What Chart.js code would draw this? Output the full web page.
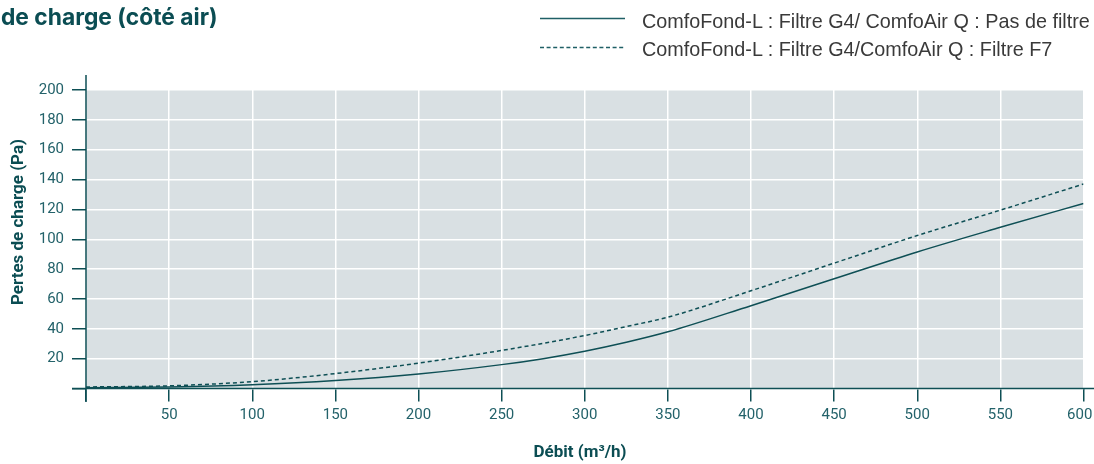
<!DOCTYPE html>
<html>
<head>
<meta charset="utf-8">
<script src="https://cdn.jsdelivr.net/npm/chart.js@4.4.1/dist/chart.umd.min.js"></script>
<style>
  html, body { margin: 0; padding: 0; background: #ffffff; }
  #wrap { position: relative; width: 1094px; height: 464px; overflow: hidden; }
  #chart { position: absolute; left: 0; top: 0; }
  .title { position: absolute; left: 1px; top: 3px; font: bold 22.8px Inter, 'Liberation Sans', Arial, sans-serif; color: #0b4d53; white-space: nowrap; line-height: 28px; }
  .lgtext { position: absolute; left: 642px; font: 19.8px 'Liberation Sans', Arial, sans-serif; color: #3a3a3a; white-space: nowrap; line-height: 28px; }
  .lgline { position: absolute; left: 540px; }
</style>
</head>
<body>
<div id="wrap">
  <canvas id="chart" width="1094" height="464"></canvas>
  <div class="title">de charge (côté air)</div>
  <svg class="lgline" style="top:16px" width="85" height="5"><line x1="0" y1="2.5" x2="85" y2="2.5" stroke="#1f5f66" stroke-width="1.3"/></svg>
  <svg class="lgline" style="top:44.5px" width="85" height="5"><line x1="0" y1="2.5" x2="85" y2="2.5" stroke="#1f5f66" stroke-width="1.3" stroke-dasharray="4 2.6"/></svg>
  <div class="lgtext" id="lg0" style="top:7px"></div>
  <div class="lgtext" id="lg1" style="top:35px"></div>
</div>
<script>
// Airflow (m³/h) and pressure loss (Pa) for the two filter configurations
const flow = [0, 50, 100, 150, 200, 250, 275, 300, 325, 350, 400, 450, 500, 550, 600];
const lossNoFilter = [0.5, 1, 2.5, 5.3, 9.7, 16, 20, 25, 31, 38, 55.5, 73.5, 91.5, 108, 124];
const lossF7 = [1, 1.8, 4.6, 10, 17, 25.5, 30.3, 35.5, 41.5, 47.8, 65.5, 84, 102.5, 119.5, 137];
const seriesNames = [
  'ComfoFond-L : Filtre G4/ ComfoAir Q : Pas de filtre',
  'ComfoFond-L : Filtre G4/ComfoAir Q : Filtre F7'
];
const xTicksStep = 50;
const yTicksStep = 20;
const xLabel = 'Débit (m³/h)';
const yLabel = 'Pertes de charge (Pa)';

document.getElementById('lg0').textContent = seriesNames[0];
document.getElementById('lg1').textContent = seriesNames[1];

const teal = '#0e4f55';
const tickText = '#23626a';
const tickFont = { family: "Roboto, sans-serif", size: 15 };

const toPoints = (ys) => flow.map((x, i) => ({ x, y: ys[i] }));

// Grey plotting panel behind the grid
const panelPlugin = {
  id: 'panel',
  beforeDraw(chart) {
    const { ctx, chartArea: a } = chart;
    ctx.save();
    ctx.fillStyle = '#d9e0e3';
    ctx.fillRect(a.left, a.top, a.right - a.left, a.bottom - a.top);
    ctx.restore();
  }
};

// Axis lines running past the panel, plus the two axis titles
const axesPlugin = {
  id: 'axes',
  afterDraw(chart) {
    const { ctx, chartArea: a } = chart;
    ctx.save();
    ctx.strokeStyle = teal;
    ctx.lineWidth = 1.5;
    ctx.beginPath();
    ctx.moveTo(a.left, a.top - 15);
    ctx.lineTo(a.left, a.bottom + 13.5);
    ctx.moveTo(a.left - 14, a.bottom);
    ctx.lineTo(chart.width, a.bottom);
    ctx.stroke();

    ctx.fillStyle = '#0b4d53';
    ctx.font = "bold 17px Roboto, sans-serif";
    ctx.textAlign = 'center';
    ctx.textBaseline = 'middle';
    ctx.fillText(xLabel, 580, 453);
    ctx.translate(18.5, 222);
    ctx.rotate(-Math.PI / 2);
    ctx.fillText(yLabel, 0, 0);
    ctx.restore();
  }
};

new Chart(document.getElementById('chart'), {
  type: 'line',
  data: {
    datasets: [
      {
        label: seriesNames[0],
        data: toPoints(lossNoFilter),
        borderColor: teal,
        borderWidth: 1.5,
        pointRadius: 0,
        cubicInterpolationMode: 'monotone',
        fill: false
      },
      {
        label: seriesNames[1],
        data: toPoints(lossF7),
        borderColor: teal,
        borderWidth: 1.5,
        borderDash: [4, 3],
        pointRadius: 0,
        cubicInterpolationMode: 'monotone',
        fill: false
      }
    ]
  },
  options: {
    responsive: false,
    animation: false,
    layout: { padding: { top: 90, right: 10.5, left: 0, bottom: 0 } },
    plugins: { legend: { display: false }, tooltip: { enabled: false } },
    scales: {
      x: {
        type: 'linear',
        min: 0,
        max: 600,
        ticks: {
          stepSize: xTicksStep,
          // the last label carries a trailing en space so it stays inside the canvas
          callback: (v) => (v === 0 ? '' : v === 600 ? v + '\u2002' : String(v)),
          color: tickText,
          font: tickFont,
          padding: 5,
          maxRotation: 0,
          autoSkip: false
        },
        grid: { color: '#ffffff', lineWidth: 1.5, tickColor: teal, tickLength: 13 },
        border: { display: false },
        afterFit(s) { s.height = 75.5; s.paddingLeft = 0; s.paddingRight = 0; }
      },
      y: {
        min: 0,
        max: 200,
        ticks: {
          stepSize: yTicksStep,
          callback: (v) => (v === 0 ? '' : v),
          color: tickText,
          font: tickFont,
          padding: 8
        },
        grid: { color: '#ffffff', lineWidth: 1.5, tickColor: teal, tickLength: 14 },
        border: { display: false },
        afterFit(s) { s.width = 86; s.paddingTop = 0; s.paddingBottom = 0; }
      }
    }
  },
  plugins: [panelPlugin, axesPlugin]
});
</script>
</body>
</html>
